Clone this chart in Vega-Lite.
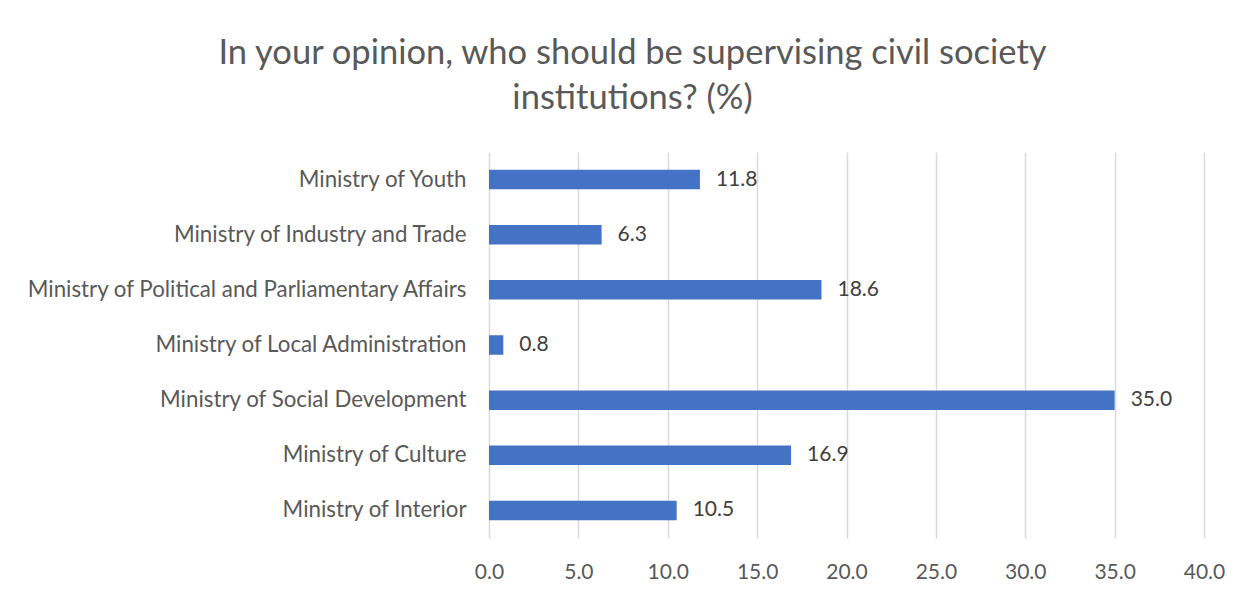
{
  "$schema": "https://vega.github.io/schema/vega-lite/v6.json",
  "autosize": {"type": "none"},
  "width": 715,
  "height": 386,
  "padding": {"left": 489, "top": 152, "right": 46, "bottom": 57},
  "background": "white",
  "title": {
    "text": ["In your opinion, who should be supervising civil society", "institutions? (%)"],
    "font": "Lato",
    "fontSize": 34.5,
    "fontWeight": "normal",
    "color": "#595959",
    "lineHeight": 45,
    "anchor": "middle",
    "dx": -214,
    "offset": 36
  },
  "data": {
    "values": [
      {"ministry": "Ministry of Youth", "pct": 11.8},
      {"ministry": "Ministry of Industry and Trade", "pct": 6.3},
      {"ministry": "Ministry of Political and Parliamentary Affairs", "pct": 18.6},
      {"ministry": "Ministry of Local Administration", "pct": 0.8},
      {"ministry": "Ministry of Social Development", "pct": 35.0},
      {"ministry": "Ministry of Culture", "pct": 16.9},
      {"ministry": "Ministry of Interior", "pct": 10.5}
    ]
  },
  "encoding": {
    "y": {
      "field": "ministry",
      "type": "nominal",
      "sort": null,
      "scale": {"paddingInner": 0.646, "paddingOuter": 0.323},
      "axis": {
        "title": null,
        "domain": false,
        "ticks": false,
        "labelFont": "Lato",
        "labelFontSize": 22.3,
        "labelColor": "#595959",
        "labelPadding": 23,
        "labelLimit": 600
      }
    },
    "x": {
      "field": "pct",
      "type": "quantitative",
      "scale": {"domain": [0, 40]},
      "axis": {
        "title": null,
        "values": [0, 5, 10, 15, 20, 25, 30, 35, 40],
        "format": ".1f",
        "domain": false,
        "ticks": false,
        "grid": true,
        "gridColor": "#D9D9D9",
        "gridWidth": 1.5,
        "labelFlush": false,
        "labelFont": "Lato",
        "labelFontSize": 21,
        "labelColor": "#595959",
        "labelPadding": 23
      }
    }
  },
  "layer": [
    {"mark": {"type": "bar", "color": "#4472C4"}},
    {
      "mark": {"type": "text", "align": "left", "dx": 16, "font": "Lato", "fontSize": 21, "color": "#404040"},
      "encoding": {"text": {"field": "pct", "type": "quantitative", "format": ".1f"}}
    }
  ],
  "config": {"view": {"stroke": null}}
}
